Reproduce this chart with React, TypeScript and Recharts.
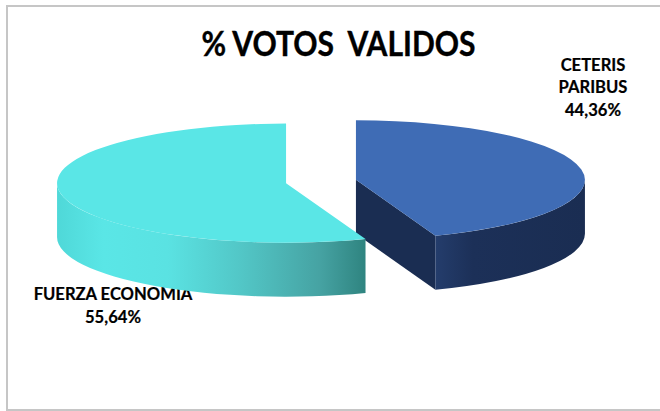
import React from "react";
import { PieChart, Pie } from "recharts";

const names = ["CETERIS PARIBUS", "FUERZA ECONOMIA"];
const shares = [44.36, 55.64];
const topColors = ["#3f6cb5", "#5ae6e6"];
const title = "% VOTOS  VALIDOS";

const data = names.map((name, i) => ({ name, value: shares[i], fill: topColors[i] }));

const RAD = Math.PI / 180;
const SQUASH = 0.26;
const DEPTH = 54;
const EXPLODE = 35.5;
const FONT = "Lato, 'Open Sans', sans-serif";

// tilted pie slice: the angles come from the Pie, only the ellipse is drawn here
function Slice3D(props: any) {
  const { cx, cy, outerRadius: r, startAngle, endAngle, midAngle, fill, index } = props;
  const ox = cx + EXPLODE * Math.cos(midAngle * RAD);
  const oy = cy - EXPLODE * Math.sin(midAngle * RAD) * SQUASH;
  const px = (a: number) => ox + r * Math.cos(a * RAD);
  const py = (a: number) => oy - r * SQUASH * Math.sin(a * RAD);
  const ry = r * SQUASH;
  const large = Math.abs(endAngle - startAngle) > 180 ? 1 : 0;

  // front wall runs over the part of the rim that faces the viewer
  const norm = (a: number) => (a > 90 ? a - 360 : a);
  const from = Math.min(Math.max(norm(startAngle), norm(endAngle)), 0);
  const to = Math.max(Math.min(norm(startAngle), norm(endAngle)), -180);
  const wall =
    `M${px(from)},${py(from)} A${r},${ry} 0 0 1 ${px(to)},${py(to)} ` +
    `L${px(to)},${py(to) + DEPTH} A${r},${ry} 0 0 0 ${px(from)},${py(from) + DEPTH} Z`;

  const top =
    `M${ox},${oy} L${px(startAngle)},${py(startAngle)} ` +
    `A${r},${ry} 0 ${large} 1 ${px(endAngle)},${py(endAngle)} Z`;

  // only the blue slice shows its cut face
  const cut =
    index === 0
      ? `M${ox},${oy} L${px(endAngle)},${py(endAngle)} L${px(endAngle)},${py(endAngle) + DEPTH} L${ox},${oy + DEPTH} Z`
      : null;

  return (
    <g>
      {cut && <path d={cut} fill="#1a2d52" />}
      <path d={wall} fill={index === 0 ? "url(#wallBlue)" : "url(#wallCyan)"} />
      <path d={top} fill={fill} />
    </g>
  );
}

export default function App() {
  return (
    <div style={{ position: "absolute", left: 0, top: 0, width: 660, height: 411, background: "#fff" }}>
      <PieChart width={660} height={411} margin={{ top: 0, right: 0, bottom: 0, left: 0 }}>
        <defs>
          <linearGradient id="wallBlue" x1="0" y1="0" x2="1" y2="0">
            <stop offset="0" stopColor="#243d6c" />
            <stop offset="0.25" stopColor="#1c3058" />
            <stop offset="1" stopColor="#1a2d52" />
          </linearGradient>
          <linearGradient id="wallCyan" x1="0" y1="0" x2="1" y2="0">
            <stop offset="0" stopColor="#4fd8d8" />
            <stop offset="0.15" stopColor="#5ae6e6" />
            <stop offset="0.36" stopColor="#5ae2e2" />
            <stop offset="0.6" stopColor="#52c6c6" />
            <stop offset="0.85" stopColor="#46a3a3" />
            <stop offset="1" stopColor="#2f8480" />
          </linearGradient>
        </defs>
        <rect x={7} y={6} width={670} height={404} fill="none" stroke="#c6c6c6" strokeWidth={2} />
        <Pie
          data={data}
          dataKey="value"
          nameKey="name"
          cx={321}
          cy={181.5}
          outerRadius={229}
          startAngle={90}
          endAngle={-270}
          stroke="none"
          shape={Slice3D}
          isAnimationActive={false}
        />
        <text x={338.5} y={55.5} textAnchor="middle" fontFamily={FONT} fontWeight={700} fontSize={34} fill="#000" stroke="#000" strokeWidth={0.4} textLength={274} lengthAdjust="spacingAndGlyphs" style={{ whiteSpace: "pre" }}>
          {title}
        </text>
        <text textAnchor="middle" fontFamily={FONT} fontWeight={700} fontSize={16.6} fill="#000" stroke="#000" strokeWidth={0.2}>
          <tspan x={593} y={70.5}>{names[0].split(" ")[0]}</tspan>
          <tspan x={593} y={93}>{names[0].split(" ")[1]}</tspan>
          <tspan x={593} y={115.5}>{shares[0].toFixed(2).replace(".", ",")}%</tspan>
        </text>
        <text textAnchor="middle" fontFamily={FONT} fontWeight={700} fontSize={16.6} fill="#000" stroke="#000" strokeWidth={0.2}>
          <tspan x={113} y={299.5}>{names[1]}</tspan>
          <tspan x={113} y={323}>{shares[1].toFixed(2).replace(".", ",")}%</tspan>
        </text>
      </PieChart>
    </div>
  );
}
